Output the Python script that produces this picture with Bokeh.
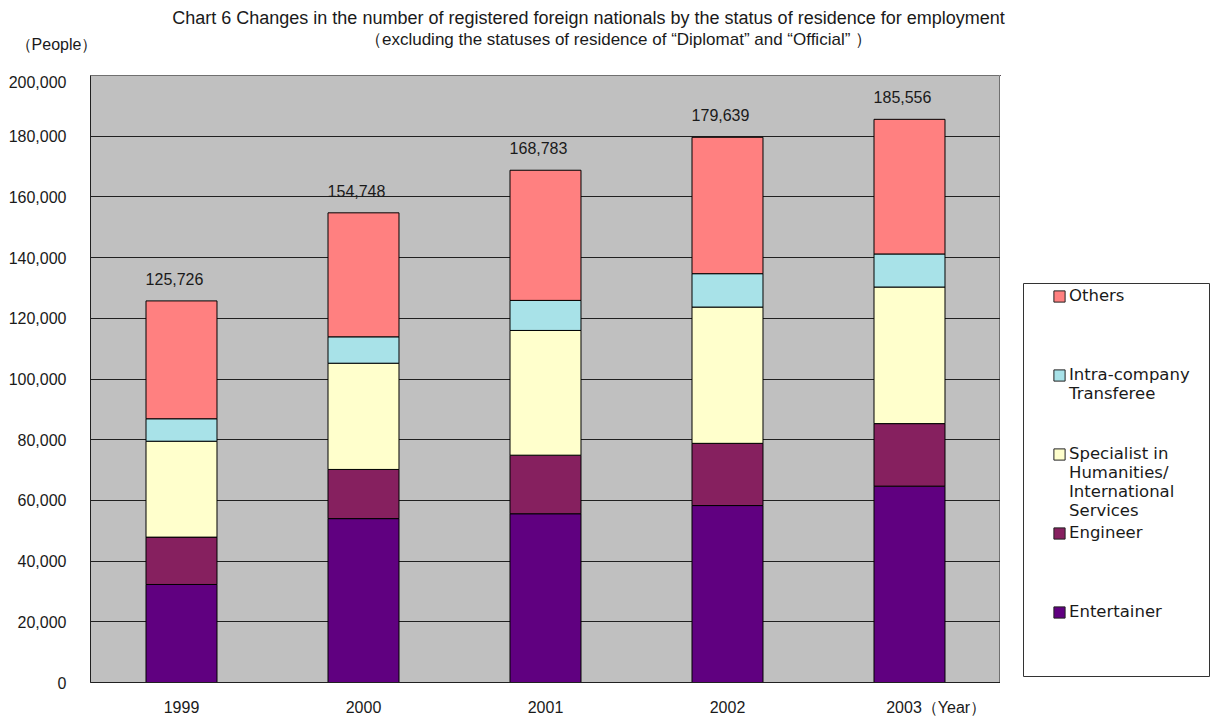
from bokeh.plotting import figure
from bokeh.models import (ColumnDataSource, Label, Legend, LegendItem, FactorRange,
                          Range1d, NumeralTickFormatter, FixedTicker)
from bokeh.layouts import row, column
from bokeh.embed import file_html
from bokeh.resources import INLINE
from bokeh.core.properties import value

# ---------------- data ----------------
years = ["1999", "2000", "2001", "2002", "2003"]
totals = [125726, 154748, 168783, 179639, 185556]
entertainer = [32300, 54000, 55600, 58300, 64700]
engineer = [15600, 16200, 19300, 20500, 20600]
specialist = [31600, 35000, 41100, 44900, 45000]
intra_company = [7400, 8700, 9900, 11000, 10900]
others = [38826, 40848, 42883, 44939, 44356]

series_keys = ["entertainer", "engineer", "specialist", "intra", "others"]
series_names = ["Entertainer", "Engineer",
                "Specialist in\nHumanities/\nInternational\nServices",
                "Intra-company\nTransferee", "Others"]
series_colors = ["#600080", "#86205F", "#FFFFCC", "#A8E2E8", "#FF8080"]
y_ticks = [0, 20000, 40000, 60000, 80000, 100000, 120000, 140000, 160000, 180000, 200000]

title_1 = "Chart 6 Changes in the number of registered foreign nationals by the status of residence for employment"
title_2 = "（excluding the statuses of residence of “Diplomat” and “Official” ）"
y_unit = "（People）"
x_unit = "（Year）"

FONT = "Liberation Sans"
LEG_FONT = "DejaVu Sans"
TXT = "#1a1a1a"
NBSP = "\u00a0"

# category labels: the last one carries the unit "（Year）"; leading no-break
# spaces keep "2003" itself centred under its bar
x_factors = years[:-1] + [NBSP * 12 + years[-1] + x_unit]


def no_align(fig):
    try:
        fig.frame_align = False
    except Exception:
        pass


src = ColumnDataSource(dict(
    year=x_factors, entertainer=entertainer, engineer=engineer, specialist=specialist,
    intra=intra_company, others=others, total=totals,
    total_label=[f"{t:,}" for t in totals]))

# ---------------- title strip (page y 0..75) ----------------
top = figure(width=1212, height=75, x_range=Range1d(0, 1212), y_range=Range1d(75, 0),
             x_axis_type=None, y_axis_type=None, output_backend="svg",
             toolbar_location=None, min_border=0)
top.outline_line_color = None
top.background_fill_color = "white"
top.border_fill_color = "white"
no_align(top)


def top_label(text, cx, cy, size):
    top.add_layout(Label(x=cx, y=cy, text=text, text_align="center", text_baseline="middle",
                         text_font=FONT, text_font_size=size, text_color=TXT))


top_label(title_1, 588, 17, "18px")
top_label(title_2, 618, 39, "17px")
top_label(y_unit, 56, 44, "16px")

# ---------------- main chart (frame: page x 90..1000, y 75..683) ----------------
p = figure(x_range=FactorRange(*x_factors), y_range=Range1d(0, 200000),
           width=1000, height=643, output_backend="svg", toolbar_location=None,
           min_border_left=90, min_border_right=0, min_border_top=0, min_border_bottom=35)
no_align(p)

p.vbar_stack(series_keys, x="year", width=0.39, color=series_colors,
             line_color="black", line_width=1, source=src)

p.text(x="year", y="total", text="total_label", source=src,
       text_align="center", text_baseline="middle", x_offset=-7, y_offset=-22,
       text_font=value(FONT), text_font_size="16px", text_color=TXT)

p.background_fill_color = "#C0C0C0"
p.border_fill_color = "white"
p.outline_line_color = "#707070"

p.xgrid.grid_line_color = None
p.ygrid.ticker = FixedTicker(ticks=y_ticks)
p.ygrid.grid_line_color = "#202020"
p.ygrid.grid_line_width = 1

p.yaxis.ticker = FixedTicker(ticks=y_ticks)
p.yaxis.formatter = NumeralTickFormatter(format="0,0")
p.yaxis.major_tick_out = 0
p.yaxis.major_tick_in = 0
p.yaxis.minor_tick_line_color = None
p.yaxis.major_label_standoff = 24
p.yaxis.axis_line_color = "#202020"

p.xaxis.major_tick_line_color = None
p.xaxis.major_label_standoff = 10
p.xaxis.axis_line_color = "#202020"

for ax in (p.xaxis[0], p.yaxis[0]):
    ax.major_label_text_font = FONT
    ax.major_label_text_font_size = "16px"
    ax.major_label_text_color = TXT

# ---------------- legend panel (page x 1000..1212, frame y 75..683) ----------------
lg = figure(width=212, height=643, x_range=Range1d(1000, 1212), y_range=Range1d(683, 75),
            x_axis_type=None, y_axis_type=None, output_backend="svg",
            toolbar_location=None, min_border_left=0, min_border_right=0,
            min_border_top=0, min_border_bottom=35)
lg.outline_line_color = None
lg.background_fill_color = "white"
lg.border_fill_color = "white"
no_align(lg)

# legend box
lg.quad(left=[1023], right=[1209], top=[283], bottom=[676],
        fill_color="white", line_color="#333333", line_width=1)

text_items, swatch_items = [], []
for key, name, col in reversed(list(zip(series_keys, series_names, series_colors))):
    swatch = lg.vbar(x=[-500], top=[1], bottom=[0], width=1,
                     fill_color=col, line_color="#222222")
    blank = lg.vbar(x=[-500], top=[1], bottom=[0], width=1,
                    fill_alpha=0, line_alpha=0)
    n_lines = name.count("\n") + 1
    # every label occupies a 4-line slot, text aligned to the slot's top
    padded = name + ("\n" + NBSP) * (4 - n_lines)
    text_items.append(LegendItem(label=padded, renderers=[blank]))
    swatch_items.append(LegendItem(label=NBSP, renderers=[swatch]))

common = dict(padding=0, spacing=0, margin=0, border_line_color=None,
              background_fill_alpha=0, glyph_width=14, glyph_height=14,
              label_standoff=3, label_height=79, label_text_font=LEG_FONT,
              label_text_font_size="16.5px", label_text_color=TXT)

# labels (top-aligned in equal slots)
text_legend = Legend(items=text_items, location=(52, 4), **common)
# swatches, centred on the first line of each label
swatch_legend = Legend(items=swatch_items, location=(52, 32), **common)
lg.add_layout(text_legend, "center")
lg.add_layout(swatch_legend, "center")

layout = column(top, row(p, lg))
open("out.html", "w").write(file_html(layout, INLINE))
